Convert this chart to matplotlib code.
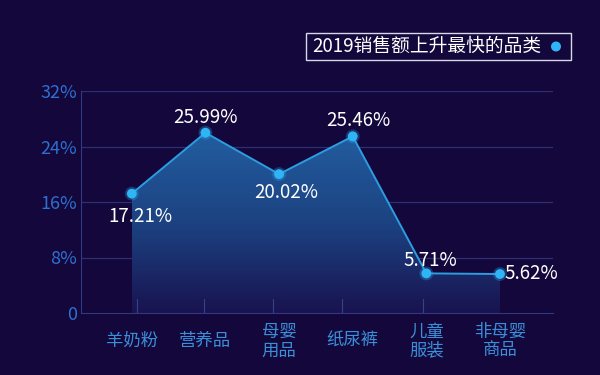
import matplotlib
matplotlib.use("Agg")
import matplotlib.pyplot as plt
import numpy as np
from matplotlib.patches import Polygon, Ellipse, Rectangle
from matplotlib.colors import LinearSegmentedColormap

plt.rcParams['font.family'] = ['Noto Sans CJK SC', 'DejaVu Sans']

categories = ['羊奶粉', '营养品', '母婴\n用品', '纸尿裤', '儿童\n服装', '非母婴\n商品']
values = [17.21, 25.99, 20.02, 25.46, 5.71, 5.62]
value_labels = ['17.21%', '25.99%', '20.02%', '25.46%', '5.71%', '5.62%']
yticks = [0, 8, 16, 24, 32]
ytick_labels = ['0', '8%', '16%', '24%', '32%']
legend_title = '2019销售额上升最快的品类'

bg = '#13073b'
fig = plt.figure(figsize=(6, 3.75), dpi=100, facecolor=bg)
ax = fig.add_axes([81/600, 1-313/375, (553-81)/600, (313-91)/375])
ax.set_facecolor(bg)

x = np.arange(len(values))
ax.set_xlim(-0.69, 5.72)
ax.set_ylim(0, 32)

for t in yticks[1:]:
    ax.axhline(t, color='#2c2f74', lw=0.9, zorder=1)

# gradient fill under the line
verts = [(x[0], 0)] + list(zip(x, values)) + [(x[-1], 0)]
poly = Polygon(verts, closed=True, facecolor='none', edgecolor='none')
ax.add_patch(poly)
grad = np.linspace(1, 0, 256).reshape(-1, 1)
cmap = LinearSegmentedColormap.from_list('g', ['#1a1452', '#1d4686', '#2363a6'])
im = ax.imshow(grad, extent=[x[0], x[-1], 0, max(values)], aspect='auto',
               cmap=cmap, origin='upper', zorder=2, alpha=0.95)
im.set_clip_path(poly)

ax.plot(x, values, color='#2b9de0', lw=1.4, zorder=3)
ax.scatter(x, values, s=100, color='#29a9f0', alpha=0.3, zorder=4, edgecolors='none')
ax.scatter(x, values, s=50, color='#2fb4f5', zorder=5, edgecolors='none')

offsets = [(0.12, -3.3), (0.0, 2.2), (0.1, -2.7), (0.08, 2.3), (0.05, 1.9), (0.42, 0.1)]
for xi, v, lab, (dx, dy) in zip(x, values, value_labels, offsets):
    ax.text(xi + dx, v + dy, lab, color='white', fontsize=13.5, ha='center', va='center', zorder=6)

ax.set_yticks(yticks)
ax.set_yticklabels(ytick_labels, color='#2e6fcf', fontsize=13)
ax.set_xticks(x)
ax.set_xticklabels([])
ax.tick_params(axis='y', length=0, pad=3)
ax.tick_params(axis='x', length=0)
tr = ax.get_xaxis_transform()
for xi, c in zip(x, categories):
    ax.text(xi, -(341-313)/222, c, transform=tr, color='#3b8fd9', fontsize=12.5,
            ha='center', va='center', linespacing=1.05, clip_on=False)

for s in ['top', 'right']:
    ax.spines[s].set_visible(False)
ax.spines['left'].set_color('#2f3a80')
ax.spines['bottom'].set_color('#2f3a80')

# vertical separators near bottom
for xv in [0.07, 0.98, 1.92, 2.86, 3.95]:
    ax.plot([xv, xv], [0, 2.0], color='#34428a', lw=0.8, zorder=2.5)

# legend box
fig.add_artist(Rectangle((306/600, 1-60/375), 265/600, 27/375,
               transform=fig.transFigure, facecolor='none', edgecolor='#d8d8e8', lw=1.0))
fig.text(312/600, 1-46.5/375, legend_title, color='white', fontsize=13.5, va='center', ha='left')
fig.add_artist(Ellipse((556/600, 1-46.5/375), 10/600, 10/375, transform=fig.transFigure,
                       facecolor='#2fb4f5', edgecolor='none'))

fig.savefig('out.png', dpi=100, facecolor=bg)
